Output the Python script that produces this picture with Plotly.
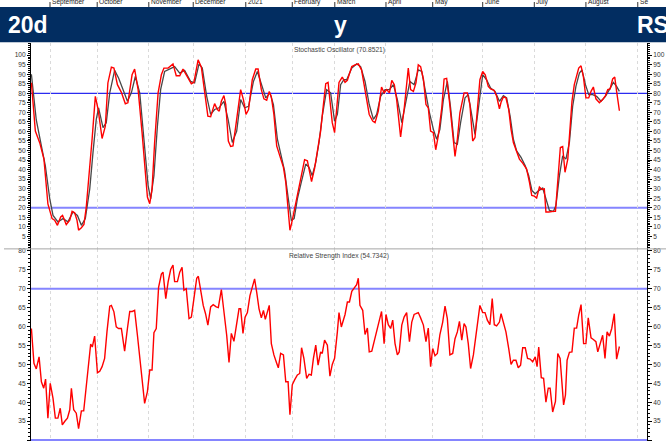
import plotly.graph_objects as go

# x positions are trading sessions counted from the first session of September 2020
month_starts = [0, 20.3, 42.5, 61.6, 84.2, 104.2, 122.5, 144.5, 164.6, 186.1, 208.3, 230.5, 252.8]
month_labels = ["September", "October", "November", "December", "2021", "February",
                "March", "April", "May", "June", "July", "August", "Se"]

stoch_k_x = [
    -8.0, -6.3, -4.4, -2.6, -0.9, 0.9, 2.0, 3.2, 4.6, 5.4, 7.0, 8.5, 9.5, 10.6, 11.6, 12.3,
    13.5, 14.6, 15.6, 16.8, 18.1, 19.5, 20.7, 22.4, 23.8, 24.9, 26.4, 27.5, 29.0, 30.7, 32.4,
    33.5, 35.3, 36.4, 37.9, 39.6, 41.0, 41.9, 42.9, 43.9, 45.0, 46.5, 47.9, 49.0, 50.8, 52.9,
    54.3, 55.8, 57.2, 60.8, 61.9, 63.7, 65.1, 66.5, 67.9, 69.1, 70.8, 72.0, 72.8, 73.7, 74.8,
    75.6, 76.7, 77.7, 78.7, 79.9, 82.0, 83.2, 84.3, 85.4, 87.0, 88.5, 89.5, 90.9, 92.0, 93.2,
    94.3, 95.2, 96.3, 97.5, 98.9, 100.4, 101.4, 102.1, 103.2, 104.2, 105.2, 107.1, 108.1,
    109.5, 110.7, 111.8, 112.5, 113.8, 115.0, 116.4, 117.6, 118.6, 119.6, 120.4, 121.4, 122.4,
    123.3, 124.3, 125.7, 126.9, 127.9, 129.8, 131.2, 132.6, 134.0, 135.5, 137.3, 138.8, 139.8,
    141.2, 142.6, 143.7, 144.8, 146.0, 147.0, 148.1, 149.1, 150.8, 152.3, 154.1, 155.1, 156.3,
    157.4, 158.4, 159.4, 160.6, 161.7, 162.7, 163.7, 164.9, 165.9, 167.0, 168.5, 169.5, 170.6,
    171.8, 172.8, 174.2, 175.2, 176.3, 178.1, 179.5, 180.6, 181.8, 182.8, 183.8, 184.9, 186.1,
    187.2, 188.5, 189.5, 191.0, 192.1, 193.3, 194.0, 195.0, 196.1, 197.3, 198.3, 199.3, 200.4,
    201.9, 203.3, 205.0, 206.2, 207.2, 208.3, 209.3, 210.5, 211.6, 212.6, 213.3, 214.5, 215.5,
    216.5, 217.4, 218.4, 219.5, 220.5, 221.5, 222.7, 223.7, 224.5, 225.5, 226.5, 227.4, 228.4,
    229.4, 230.5, 231.7, 232.7, 233.7, 234.8, 236.3, 237.7, 238.9, 239.9, 240.9, 242.0, 242.9,
    243.7, 244.9,
]
stoch_k = [
    85.5, 60.2, 54.0, 45.5, 22.0, 14.3, 13.5, 10.8, 15.2, 16.0, 11.2, 13.5, 18.1, 17.4, 13.5, 8.3,
    9.5, 11.2, 20.4, 36.8, 55.9, 78.4, 71.5, 56.3, 62.8, 85.4, 93.7, 93.2, 84.5, 80.5, 74.5,
    75.0, 89.7, 92.7, 81.9, 59.4, 36.8, 25.6, 22.1, 29.9, 54.2, 80.2, 89.7, 93.2, 93.2, 95.4,
    89.2, 89.2, 92.7, 85.0, 85.7, 97.5, 93.7, 80.2, 68.0, 67.7, 74.6, 71.5, 70.6, 75.8, 78.8,
    74.1, 55.0, 52.1, 52.4, 62.8, 81.9, 76.7, 68.9, 71.5, 87.1, 92.7, 92.7, 81.9, 77.1, 76.4,
    81.0, 78.1, 68.9, 52.4, 46.4, 41.2, 33.4, 23.0, 8.2, 13.4, 19.5, 29.9, 36.8,
    45.2, 44.6, 38.6, 33.7, 40.7, 49.0, 60.2, 74.1, 85.0, 85.7, 77.6, 64.6, 59.4,
    71.5, 85.7, 88.5, 85.7, 86.8, 94.0, 94.9, 95.4, 92.3, 81.9, 68.9, 65.4, 64.6,
    70.6, 83.3, 80.2, 81.9, 80.2, 86.8, 84.5, 76.7, 57.1, 71.5, 93.2, 81.9, 81.0,
    85.4, 94.9, 94.0, 87.5, 74.1, 72.4, 60.2, 59.4, 50.4, 57.6, 72.4, 87.5, 87.8,
    75.8, 64.6, 46.9, 55.9, 69.8, 80.2, 80.2, 74.1, 55.0, 56.8, 71.5, 87.1, 91.4,
    89.7, 83.6, 82.3, 81.6, 78.4, 71.9, 75.3, 78.1, 77.6, 71.5, 61.1, 54.2, 50.7,
    45.5, 43.4, 40.3, 33.4, 26.4, 26.1, 25.1, 30.8, 29.6, 29.9, 17.8, 17.8, 18.1,
    18.1, 18.1, 35.1, 51.6, 52.1, 38.6, 45.5, 64.6, 75.8, 84.5, 88.8, 93.2, 94.4,
    88.8, 77.6, 77.6, 81.0, 83.3, 77.1, 75.0, 76.7, 78.8, 81.9, 82.3, 87.5, 88.5,
    81.0, 70.8521,
]

stoch_d_x = [
    -8.0, -5.9, -3.7, -2.0, -0.1, 1.3, 3.4, 5.6, 7.7, 9.9, 11.8, 13.5, 15.2, 17.1, 18.5, 19.9,
    20.9, 22.8, 24.2, 25.7, 27.8, 29.5, 31.4, 33.3, 35.0, 36.7, 38.6, 40.4, 42.2, 43.3, 44.7,
    46.2, 47.6, 49.3, 51.5, 53.6, 55.8, 57.9, 60.5, 62.2, 64.1, 65.5, 67.4, 69.1, 70.8, 72.7,
    74.8, 76.6, 78.4, 80.3, 82.0, 83.7, 85.4, 87.5, 89.2, 90.9, 92.8, 94.6, 96.1, 97.8, 99.5,
    100.9, 102.4, 103.8, 105.0, 106.4, 108.1, 110.0, 111.4, 112.8, 114.3, 115.7, 117.1, 119.0,
    120.7, 122.4, 123.6, 125.0, 126.4, 127.6, 129.8, 131.9, 133.6, 135.5, 137.3, 139.1, 140.5,
    142.2, 144.1, 146.0, 147.7, 149.4, 151.3, 152.7, 154.8, 156.6, 158.4, 159.9, 161.3, 163.2,
    164.9, 166.3, 167.7, 169.2, 170.9, 172.3, 173.8, 175.2, 176.6, 178.5, 179.9, 181.4, 182.8,
    184.2, 186.1, 187.8, 189.5, 191.4, 193.3, 195.0, 196.4, 197.9, 199.3, 200.7, 202.6, 204.4,
    205.9, 207.3, 208.7, 210.2, 211.9, 213.3, 214.8, 216.5, 217.6, 219.1, 220.5, 221.9, 223.4,
    224.8, 226.2, 227.7, 228.8, 230.3, 231.7, 233.4, 235.1, 237.0, 238.9, 240.6, 242.3, 243.7,
    244.9,
]
stoch_d = [
    90.0, 66.0, 52.4, 42.0, 24.7, 16.0, 12.6, 14.3, 12.6, 17.8, 16.0, 10.8, 14.3, 29.9, 49.0, 66.3,
    72.4, 62.0, 64.6, 80.2, 92.0, 88.0, 82.0, 75.8, 80.2, 88.8, 80.2, 55.9, 31.6, 24.7, 36.8,
    62.8, 82.0, 91.4, 92.7, 94.0, 90.6, 92.0, 86.2, 85.4, 95.4, 93.2, 78.4, 68.9, 71.5, 72.4,
    75.8, 66.3, 54.2, 60.2, 76.7, 72.4, 73.2, 86.2, 91.4, 85.4, 77.6, 80.2, 74.1, 55.9, 46.4,
    39.4, 25.6, 13.4, 14.3, 24.7, 33.4, 42.9, 41.2, 36.8, 43.8, 54.2, 68.0, 81.9,
    80.2, 65.4, 68.9, 84.5, 87.1, 87.1, 93.2, 95.4, 94.0, 86.2, 74.1, 66.3, 68.9,
    78.4, 81.9, 81.9, 84.5, 76.7, 64.6, 73.2, 86.2, 84.5, 92.3, 91.4, 81.9, 69.8,
    61.1, 55.9, 61.1, 76.7, 86.2, 72.4, 54.2, 53.3, 64.6, 77.6, 79.3, 67.2, 58.5,
    71.5, 89.7, 87.1, 82.8, 81.0, 75.8, 78.8, 77.6, 68.0, 55.9, 49.8, 46.4, 42.0,
    36.8, 29.0, 27.3, 29.0, 30.3, 24.7, 18.6, 18.1, 21.2, 36.8, 47.2, 45.5, 54.2,
    73.2, 83.6, 90.6, 92.3, 84.5, 79.3, 79.3, 78.4, 75.8, 78.4, 81.9, 85.7, 83.6,
    81.0,
]

rsi_x = [
    -8.0, -6.9, -5.9, -4.7, -3.7, -2.7, -1.9, -0.9, 0.1, 1.3, 2.3, 3.4, 4.4, 5.3, 6.3, 7.5, 8.5,
    9.2, 10.2, 11.3, 12.3, 13.5, 14.5, 15.6, 16.3, 17.5, 18.2, 19.2, 20.4, 21.4, 22.4, 23.5,
    24.5, 25.7, 26.4, 27.5, 28.5, 29.5, 30.7, 32.1, 33.3, 34.3, 35.4, 36.4, 37.6, 38.6, 39.6,
    40.7, 41.9, 42.9, 43.9, 44.7, 45.7, 46.7, 47.9, 48.6, 49.8, 50.8, 51.9, 52.9, 53.6, 54.8,
    55.8, 56.8, 57.6, 58.6, 59.8, 60.8, 61.9, 63.1, 63.8, 64.8, 65.9, 66.9, 67.9, 69.1, 70.2,
    71.5, 72.4, 73.7, 74.8, 76.0, 77.0, 78.0, 79.1, 80.3, 81.3, 82.0, 83.0, 83.9, 84.9, 86.0,
    87.0, 88.0, 88.9, 89.9, 90.9, 91.8, 92.6, 93.5, 94.3, 95.2, 96.3, 97.5, 98.2, 99.2, 100.4,
    101.4, 102.4, 103.2, 104.2, 105.2, 106.4, 107.4, 108.2, 109.2, 110.4, 111.4, 112.4, 113.3,
    114.3, 115.3, 116.4, 117.1, 118.1, 119.3, 120.4, 121.4, 122.4, 123.6, 124.3, 125.3, 126.9,
    127.9, 128.8, 129.8, 131.2, 131.9, 132.6, 133.3, 134.5, 135.5, 136.5, 137.3, 138.4, 139.4,
    140.5, 141.6, 142.6, 143.7, 144.5, 145.5, 146.5, 147.4, 148.4, 149.4, 150.2, 151.3, 152.3,
    153.4, 154.6, 155.6, 156.6, 157.4, 158.4, 159.4, 160.6, 161.7, 162.7, 163.7, 164.6, 165.6,
    166.6, 167.7, 168.9, 169.9, 170.9, 172.0, 173.2, 174.2, 175.2, 176.1, 177.1, 178.1, 178.9,
    179.9, 180.9, 182.1, 183.2, 184.2, 184.9, 186.1, 187.1, 188.1, 189.2, 190.2, 191.1, 192.1,
    193.3, 194.0, 195.0, 196.1, 197.3, 198.3, 199.3, 200.4, 201.4, 202.4, 203.3, 204.4, 205.4,
    206.5, 207.6, 208.7, 209.5, 210.2, 211.3, 212.3, 213.3, 214.3, 215.1, 216.2, 217.4, 218.4,
    219.4, 220.2, 220.9, 221.7, 222.4, 223.4, 224.5, 225.5, 226.5, 227.4, 228.4, 229.5, 230.5,
    231.5, 232.7, 233.7, 234.8, 235.6, 236.6, 237.7, 238.7, 239.6, 240.6, 241.6, 242.7, 243.7,
    244.9,
]
rsi = [
    59.5, 50.3, 48.8, 52.0, 45.4, 43.7, 46.1, 35.8, 45.0, 41.0, 35.8, 35.8, 38.4, 34.0, 34.9, 35.8, 38.0,
    43.7, 38.0, 37.1, 33.0, 37.7, 37.7, 43.7, 48.0, 55.4, 54.6, 57.5, 47.8, 48.2, 49.4, 51.6,
    58.6, 65.4, 65.6, 63.9, 59.9, 59.5, 59.5, 53.5, 59.5, 64.0, 64.0, 64.3, 57.7, 52.0, 45.4,
    39.7, 42.8, 48.5, 48.5, 58.4, 59.5, 70.4, 73.9, 74.4, 67.4, 71.8, 75.1, 76.3, 71.9, 71.9,
    74.4, 75.7, 69.6, 70.0, 62.1, 62.5, 67.4, 72.8, 73.3, 69.1, 65.6, 63.4, 60.4, 65.2, 65.8,
    65.2, 65.0, 69.8, 64.7, 57.7, 50.5, 58.2, 56.1, 60.4, 64.7, 64.7, 58.2, 62.5, 63.7, 68.2,
    70.4, 72.6, 69.1, 64.7, 62.3, 64.3, 61.9, 63.9, 65.6, 55.5, 52.5, 50.3, 49.1, 52.9, 52.5,
    45.4, 45.4, 36.7, 44.6, 45.9, 47.2, 47.6, 54.4, 51.6, 46.3, 47.4, 47.2, 51.6,
    55.1, 49.8, 53.3, 52.9, 56.4, 55.1, 46.9, 50.0, 51.6, 58.6, 63.7, 59.9, 63.2,
    66.5, 66.5, 69.3, 70.4, 71.1, 72.8, 65.6, 64.3, 57.9, 59.6, 53.3, 53.5, 56.0,
    59.5, 62.1, 64.0, 55.5, 63.2, 60.5, 59.5, 61.7, 55.5, 52.5, 53.3, 60.4, 62.5,
    63.7, 56.0, 61.2, 63.2, 63.4, 63.7, 62.3, 60.4, 56.0, 59.6, 49.4, 54.2, 52.3,
    52.9, 57.9, 61.2, 65.4, 62.1, 52.5, 52.9, 56.8, 58.6, 61.4, 56.4, 60.8, 59.9,
    55.5, 48.9, 52.5, 57.7, 61.4, 65.6, 63.7, 63.7, 61.7, 60.5, 67.4, 60.5, 60.2,
    61.2, 63.4, 60.8, 58.6, 54.2, 50.0, 51.1, 51.1, 49.1, 49.8, 54.4, 54.4, 51.6,
    51.4, 50.7, 52.0, 49.4, 54.6, 46.5, 46.3, 40.0, 43.7, 43.7, 37.4, 40.2, 52.9,
    51.6, 43.7, 39.3, 41.9, 51.1, 53.2, 53.3, 59.6, 59.6, 63.0, 65.8, 55.5, 55.5,
    62.3, 57.0, 56.6, 56.0, 53.3, 55.5, 57.7, 51.6, 58.6, 57.5, 59.5, 63.4, 51.4,
    54.7342,
]

stoch_levels = [80, 20]
rsi_levels = [70, 30]
stoch_ticks = list(range(5, 101, 5))
rsi_ticks = list(range(30, 81, 5))

W, H = 666, 441
FONT = "Liberation Sans, Arial, sans-serif"
BANNER = "#022d61"
X_RANGE = [-8.17, 256.77]
STOCH_RANGE = [-1.55, 106.45]
RSI_RANGE = [29.74, 80.55]
SPLIT = 1 - 248 / H
RIGHT_PAD = "\u00a0" * 4  # right-hand labels sit further from the axis


def py(pixel):
    return 1 - pixel / H


def y_axis(tickvals, value_range, **extra):
    axis = dict(
        range=value_range,
        tickmode="array",
        tickvals=tickvals,
        showline=True,
        linecolor="#000000",
        linewidth=1,
        ticks="outside",
        ticklen=3,
        tickcolor="#000000",
        tickfont=dict(size=6.6, color="#333333", family=FONT),
        minor=dict(tickmode="linear", tick0=0, dtick=1, ticks="outside",
                   ticklen=2, tickcolor="#000000", showgrid=False),
        showgrid=False,
        zeroline=False,
        fixedrange=True,
    )
    axis.update(extra)
    return axis


def x_axis(**extra):
    axis = dict(
        domain=[31 / W, 647 / W],
        range=X_RANGE,
        tickmode="array",
        tickvals=month_starts,
        showticklabels=False,
        ticks="",
        showline=False,
        showgrid=True,
        gridcolor="#dadada",
        gridwidth=1,
        griddash="dot",
        zeroline=False,
        fixedrange=True,
    )
    axis.update(extra)
    return axis


fig = go.Figure()
fig.add_trace(go.Scatter(x=stoch_d_x, y=stoch_d, mode="lines", xaxis="x", yaxis="y",
                         line=dict(color="#484848", width=1.3), showlegend=False))
fig.add_trace(go.Scatter(x=stoch_k_x, y=stoch_k, mode="lines", xaxis="x", yaxis="y3",
                         line=dict(color="#ff0000", width=1.4), showlegend=False))
fig.add_trace(go.Scatter(x=rsi_x, y=rsi, mode="lines", xaxis="x2", yaxis="y4",
                         line=dict(color="#ff0000", width=1.4), showlegend=False))

shapes = []
for level, color, width in zip(stoch_levels, ["#2b2bf0", "#8585ff"], [1.3, 2.2]):
    shapes.append(dict(type="line", xref="x domain", yref="y", x0=0, x1=1, y0=level, y1=level,
                       line=dict(color=color, width=width), layer="below"))
for level in rsi_levels:
    shapes.append(dict(type="line", xref="x2 domain", yref="y2", x0=0, x1=1, y0=level, y1=level,
                       line=dict(color="#8585ff", width=2.2), layer="below"))
shapes.append(dict(type="line", xref="paper", yref="paper", x0=4 / W, x1=1, y0=SPLIT, y1=SPLIT,
                   line=dict(color="#a6a6a6", width=1)))
for start in month_starts:
    shapes.append(dict(type="line", xref="x", yref="paper", x0=start, x1=start,
                       y0=py(5), y1=1, line=dict(color="#333333", width=1)))
shapes.append(dict(type="rect", xref="paper", yref="paper", x0=0, x1=1, y0=py(40.5), y1=py(5),
                   fillcolor=BANNER, line=dict(width=0), layer="above"))

annotations = []
for start, label in zip(month_starts, month_labels):
    annotations.append(dict(x=start, xref="x", y=1, yref="paper", text=label, showarrow=False,
                            xanchor="left", yanchor="middle", yshift=0.5, xshift=0,
                            font=dict(size=6.6, color="#222222", family=FONT)))
for text, xpos, anchor in [("20d", 5.5, "left"), ("y", 340.5, "center"), ("RS", 634.5, "left")]:
    annotations.append(dict(x=xpos / W, xref="paper", y=py(23.3), yref="paper",
                            text="<b>" + text + "</b>", showarrow=False,
                            xanchor=anchor, yanchor="middle",
                            font=dict(size=23, color="#ffffff", family=FONT)))
annotations.append(dict(x=0.5, xref="x domain", y=py(48), yref="paper",
                        text=f"Stochastic Oscillator ({stoch_k[-1]:.4f})", showarrow=False,
                        xanchor="center", yanchor="middle",
                        font=dict(size=6.7, color="#444444", family=FONT)))
annotations.append(dict(x=0.5, xref="x domain", y=py(255), yref="paper",
                        text=f"Relative Strength Index ({rsi[-1]:.4f})", showarrow=False,
                        xanchor="center", yanchor="middle",
                        font=dict(size=6.7, color="#444444", family=FONT)))

fig.update_layout(
    width=W,
    height=H,
    margin=dict(l=0, r=0, t=0, b=0),
    paper_bgcolor="#ffffff",
    plot_bgcolor="#ffffff",
    font=dict(family=FONT),
    showlegend=False,
    hovermode=False,
    xaxis=x_axis(anchor="y"),
    xaxis2=x_axis(anchor="y2", matches="x"),
    yaxis=y_axis(stoch_ticks, STOCH_RANGE, domain=[SPLIT, py(41)], anchor="x"),
    yaxis2=y_axis(rsi_ticks, RSI_RANGE, domain=[0, SPLIT], anchor="x2"),
    yaxis3=y_axis(stoch_ticks, STOCH_RANGE, overlaying="y", side="right", anchor="x",
                  ticklen=4, tickprefix=RIGHT_PAD),
    yaxis4=y_axis(rsi_ticks, RSI_RANGE, overlaying="y2", side="right", anchor="x2",
                  ticklen=4, tickprefix=RIGHT_PAD),
    shapes=shapes,
    annotations=annotations,
)

fig.write_html("out.html", config={"displayModeBar": False},
               post_script="document.body.style.margin = '0';")
